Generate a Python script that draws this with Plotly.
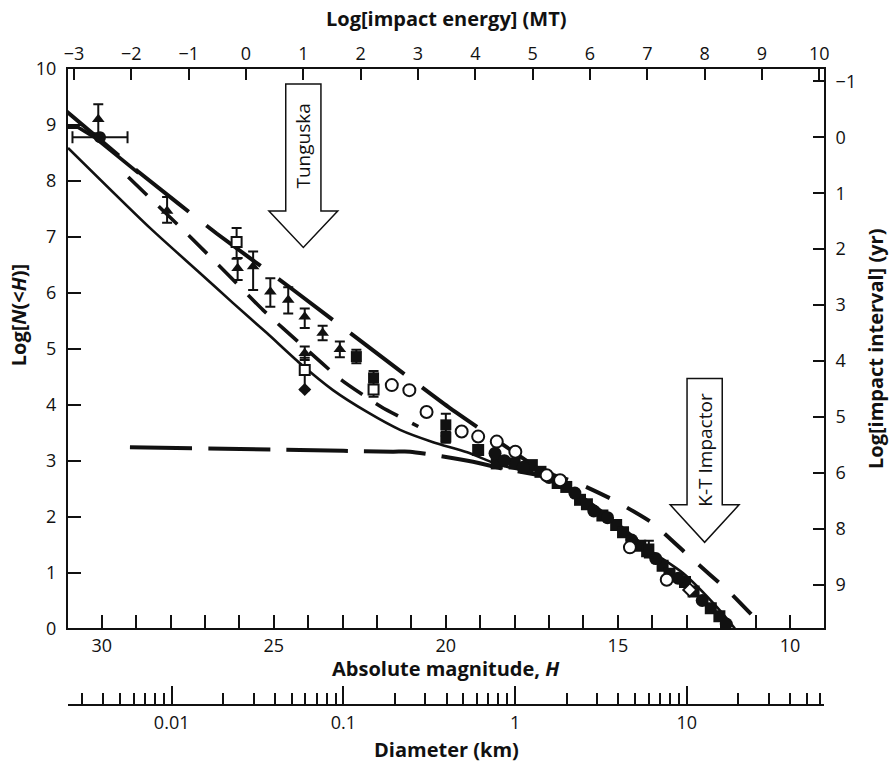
import math
import plotly.graph_objects as go

# ---------------- axis labels ----------------
H_LABELED = [30, 25, 20, 15, 10]
H_TICK_RANGE = list(range(10, 31))
LOGN_TICKS = list(range(0, 11))
ENERGY_TICKS = list(range(-3, 11))
INTERVAL_LABELS = ["\u22121", "0", "1", "2", "3", "4", "5", "6", "8", "9"]
INTERVAL_FIRST = 9.78          # left-scale position of the "-1" interval tick
DIAM_TICKS = [0.01, 0.1, 1, 10]
DIAM_LABELS = ["0.01", "0.1", "1", "10"]
DIAM_MINOR = [m * 10.0 ** e for e in range(-3, 2) for m in range(2, 10)]

# ---------------- model curves (H, log N(<H)) ----------------
solid_H = [30.98, 28.60, 27.14, 26.19, 25.20, 24.24, 23.28, 22.29, 21.33, 20.37,
           19.38, 18.43, 16.98, 16.02, 15.03, 14.07, 13.11, 12.12, 11.60]
solid_N = [8.59, 7.16, 6.35, 5.82, 5.28, 4.74, 4.26, 3.87, 3.55, 3.33,
           3.15, 2.92, 2.71, 2.35, 1.89, 1.40, 0.99, 0.38, 0.0]

upper_H = [31.02, 28.89, 26.66, 24.43, 22.20, 19.93, 17.18]
upper_N = [9.24, 8.14, 7.06, 6.05, 5.01, 3.96, 2.80]
upper2_H = [17.18, 16.25, 15.14, 14.01, 12.91, 11.74, 10.73]
upper2_N = [2.80, 2.62, 2.30, 1.89, 1.28, 0.64, 0.0]

mid_H = [29.23, 27.48, 26.37, 25.31, 24.14, 23.03, 21.87, 20.80]
mid_N = [8.07, 7.03, 6.35, 5.69, 5.04, 4.44, 3.96, 3.61]

short_H = [31.0, 30.69, 30.19, 28.93]
short_N = [8.96, 8.96, 8.77, 8.14]

known_H = [29.18, 24.24, 21.54, 21.04, 19.21, 18.43, 17.27]
known_N = [3.24, 3.19, 3.16, 3.16, 2.98, 2.87, 2.74]

# ---------------- observations ----------------
tri_H = [30.10, 28.10, 26.05, 25.60, 25.10, 24.58, 24.10, 23.58, 23.08, 24.10]
tri_N = [9.10, 7.46, 6.44, 6.47, 6.02, 5.87, 5.57, 5.28, 4.99, 4.92]
tri_up = [0.27, 0.25, 0.18, 0.27, 0.24, 0.23, 0.15, 0.13, 0.14, 0.12]
tri_dn = [0.25, 0.21, 0.21, 0.42, 0.27, 0.24, 0.20, 0.13, 0.14, 0.12]

bolide_H = [30.05]
bolide_N = [8.78]
bolide_xerr = [0.80]

osq_H = [26.08, 24.10, 22.10]
osq_N = [6.91, 4.62, 4.27]
osq_up = [0.25, 0.22, 0.0]
osq_dn = [0.30, 0.36, 0.13]

fsq_H = [22.60, 22.10, 20.00, 20.00, 14.10]
fsq_N = [4.86, 4.48, 3.64, 3.42, 1.42]
fsq_err = [0.12, 0.12, 0.20, 0.10, 0.15]

down_H = [24.10]
down_N = [4.27]

band_sq_H = [19.06, 18.52, 18.00, 17.50, 17.25, 16.75, 16.50, 16.10, 15.90, 15.45,
             15.05, 14.85, 14.35, 14.15, 13.70, 13.50, 13.05, 12.80, 12.30, 12.05]
band_sq_N = [3.19, 2.95, 2.95, 2.92, 2.80, 2.60, 2.53, 2.30, 2.22, 2.02,
             1.85, 1.72, 1.48, 1.38, 1.12, 0.98, 0.83, 0.66, 0.36, 0.22]
band_ci_H = [18.57, 18.30, 17.75, 17.00, 16.25, 15.70, 15.30, 14.60, 13.90, 13.25,
             12.55, 11.85]
band_ci_N = [3.13, 3.00, 2.88, 2.70, 2.42, 2.10, 1.98, 1.58, 1.25, 0.90,
             0.50, 0.08]

open_ci_H = [21.57, 21.06, 20.56, 19.54, 19.06, 18.52, 17.98, 17.07, 16.68, 14.65, 13.58]
open_ci_N = [4.35, 4.26, 3.87, 3.52, 3.43, 3.34, 3.16, 2.74, 2.65, 1.45, 0.87]
open_di_H = [12.91]
open_di_N = [0.69]

# ---------------- arrows (on the impact-energy scale) ----------------
ARROWS = [
    dict(label="Tunguska", energy=1.0, top=9.73, head=7.46, tip=6.81, text_y=8.62),
    dict(label="K-T Impactor", energy=8.0, top=4.47, head=2.21, tip=1.54, text_y=3.19),
]
SHAFT_HALF = 0.307
HEAD_HALF = 0.60

FONT = "Open Sans"
BLACK = "#111111"

fig = go.Figure()


def add_line(xs, ys, width, dash, smooth=0.0):
    shape = "spline" if smooth else "linear"
    fig.add_trace(go.Scatter(x=xs, y=ys, mode="lines", showlegend=False, hoverinfo="skip",
                             line=dict(color=BLACK, width=width, dash=dash,
                                       shape=shape, smoothing=smooth or None)))


add_line(known_H, known_N, 4, "62px,16px", 0.6)
add_line(solid_H, solid_N, 2.6, "solid", 0.7)
add_line(upper_H, upper_N, 4, "68px,22px", 0.5)
add_line(upper2_H, upper2_N, 4, "26px,20px", 0.5)
add_line(mid_H, mid_N, 3.6, "26px,16px", 0.5)
add_line(short_H, short_N, 3.6, "solid")

fig.add_trace(go.Scatter(x=band_sq_H, y=band_sq_N, mode="markers", showlegend=False,
                         hoverinfo="skip", marker=dict(symbol="square", size=12, color=BLACK)))
fig.add_trace(go.Scatter(x=band_ci_H, y=band_ci_N, mode="markers", showlegend=False,
                         hoverinfo="skip", marker=dict(symbol="circle", size=13, color=BLACK)))
fig.add_trace(go.Scatter(x=fsq_H, y=fsq_N, mode="markers", showlegend=False, hoverinfo="skip",
                         marker=dict(symbol="square", size=11, color=BLACK),
                         error_y=dict(type="data", array=fsq_err, color=BLACK, thickness=2, width=5)))
fig.add_trace(go.Scatter(x=osq_H, y=osq_N, mode="markers", showlegend=False, hoverinfo="skip",
                         marker=dict(symbol="square", size=10, color="white",
                                     line=dict(color=BLACK, width=2)),
                         error_y=dict(type="data", symmetric=False, array=osq_up, arrayminus=osq_dn,
                                      color=BLACK, thickness=2, width=5)))
fig.add_trace(go.Scatter(x=down_H, y=down_N, mode="markers", showlegend=False, hoverinfo="skip",
                         marker=dict(symbol="diamond", size=10, color=BLACK)))
fig.add_trace(go.Scatter(x=open_ci_H, y=open_ci_N, mode="markers", showlegend=False,
                         hoverinfo="skip", marker=dict(symbol="circle", size=12, color="white",
                                                       line=dict(color=BLACK, width=2))))
fig.add_trace(go.Scatter(x=open_di_H, y=open_di_N, mode="markers", showlegend=False,
                         hoverinfo="skip", marker=dict(symbol="diamond", size=10, color="white",
                                                       line=dict(color=BLACK, width=2))))
fig.add_trace(go.Scatter(x=tri_H, y=tri_N, mode="markers", showlegend=False, hoverinfo="skip",
                         marker=dict(symbol="triangle-up", size=11, color=BLACK),
                         error_y=dict(type="data", symmetric=False, array=tri_up, arrayminus=tri_dn,
                                      color=BLACK, thickness=2, width=5)))
fig.add_trace(go.Scatter(x=bolide_H, y=bolide_N, mode="markers", showlegend=False, hoverinfo="skip",
                         marker=dict(symbol="circle", size=12, color=BLACK),
                         error_x=dict(type="data", array=bolide_xerr, color=BLACK, thickness=2, width=6)))

# dummy traces so the extra axes are drawn
fig.add_trace(go.Scatter(x=ENERGY_TICKS, y=[None] * len(ENERGY_TICKS), xaxis="x2", yaxis="y",
                         mode="markers", showlegend=False, hoverinfo="skip"))
fig.add_trace(go.Scatter(x=DIAM_TICKS, y=[None] * len(DIAM_TICKS), xaxis="x3", yaxis="y",
                         mode="markers", showlegend=False, hoverinfo="skip"))
fig.add_trace(go.Scatter(x=[20], y=[None], xaxis="x", yaxis="y2",
                         mode="markers", showlegend=False, hoverinfo="skip"))

shapes = []
annotations = []
for a in ARROWS:
    e = a["energy"]
    path = (f"M {e - SHAFT_HALF},{a['top']} L {e + SHAFT_HALF},{a['top']} "
            f"L {e + SHAFT_HALF},{a['head']} L {e + HEAD_HALF},{a['head']} "
            f"L {e},{a['tip']} L {e - HEAD_HALF},{a['head']} "
            f"L {e - SHAFT_HALF},{a['head']} Z")
    shapes.append(dict(type="path", xref="x2", yref="y", path=path,
                       fillcolor="white", line=dict(color=BLACK, width=1.5), layer="above"))
    annotations.append(dict(x=e, y=a["text_y"], xref="x2", yref="y", text=a["label"],
                            textangle=-90, showarrow=False, xanchor="center", yanchor="middle",
                            font=dict(family=FONT, size=19, color=BLACK)))

title_font = dict(family=FONT, size=20, color=BLACK)
for x, y, ang, txt in [
    (0.5, 1.080, 0, "<b>Log[impact energy] (MT)</b>"),
    (0.5, 0.058, 0, "<b>Absolute magnitude, <i>H</i></b>"),
    (0.5, -0.0695, 0, "<b>Diameter (km)</b>"),
    (-0.066, 0.613, -90, "<b>Log[<i>N</i>(&lt;<i>H</i>)]</b>"),
    (1.069, 0.56, -90, "<b>Log[impact interval] (yr)</b>"),
]:
    annotations.append(dict(x=x, y=y, xref="paper", yref="paper", showarrow=False,
                            textangle=ang, xanchor="center", yanchor="middle", borderpad=0,
                            text=txt, font=title_font))

tick_font = dict(family=FONT, size=18, color=BLACK)
common = dict(showgrid=False, zeroline=False, showline=True, linecolor=BLACK, linewidth=2,
              ticks="inside", tickcolor=BLACK, tickwidth=1.6, tickfont=tick_font)

fig.update_layout(
    width=894, height=765,
    margin=dict(l=68, r=70, t=69, b=60),
    paper_bgcolor="white", plot_bgcolor="white",
    showlegend=False,
    xaxis=dict(range=[30.98, 9.01], domain=[0, 1], anchor="y",
               tickmode="array", tickvals=H_TICK_RANGE,
               ticktext=[str(v) if v in H_LABELED else "" for v in H_TICK_RANGE],
               ticklen=13, ticklabelstandoff=0, **common),
    xaxis2=dict(range=[-3.105, 10.082], overlaying="x", side="top", anchor="y",
                tickmode="array", tickvals=ENERGY_TICKS,
                ticktext=[str(v).replace("-", "\u2212") for v in ENERGY_TICKS],
                ticklen=11, ticklabelstandoff=0, **common),
    xaxis3=dict(type="log", range=[math.log10(0.00249), math.log10(63)], overlaying="x",
                anchor="free", position=0, side="bottom",
                tickmode="array", tickvals=DIAM_TICKS, ticktext=DIAM_LABELS,
                ticklen=18, ticklabelstandoff=1,
                minor=dict(tickmode="array", tickvals=DIAM_MINOR, ticks="inside",
                           ticklen=11, tickwidth=1.6, tickcolor=BLACK),
                **common),
    yaxis=dict(range=[0, 10], domain=[0.1203, 1], anchor="x",
               tickmode="array", tickvals=LOGN_TICKS, ticklen=13, ticklabelstandoff=6, **common),
    yaxis2=dict(range=[0, 10], overlaying="y", side="right", anchor="x",
                tickmode="array", tickvals=[INTERVAL_FIRST - i for i in range(len(INTERVAL_LABELS))],
                ticktext=INTERVAL_LABELS, ticklen=11, ticklabelstandoff=6, **common),
    shapes=shapes,
    annotations=annotations,
)

fig.write_html("out.html")
